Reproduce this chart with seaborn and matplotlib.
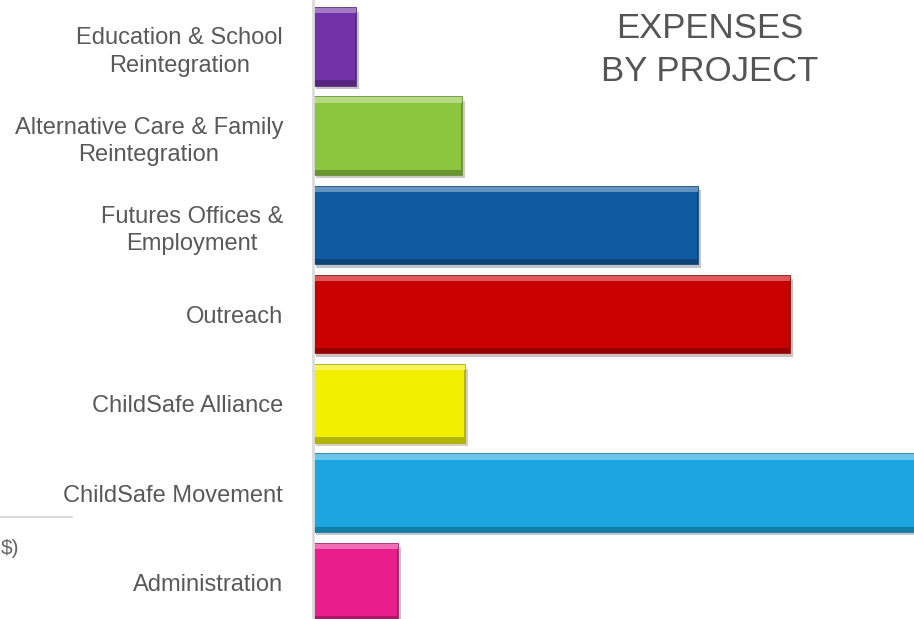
import numpy as np
import pandas as pd
import matplotlib
matplotlib.use("Agg")
import matplotlib.pyplot as plt
import matplotlib.patheffects as pe
from matplotlib.lines import Line2D
from matplotlib.colors import to_rgb
import seaborn as sns

# data (thousands US$ approx.)
projects = ["Education & School\nReintegration",
            "Alternative Care & Family\nReintegration",
            "Futures Offices &\nEmployment",
            "Outreach",
            "ChildSafe Alliance",
            "ChildSafe Movement",
            "Administration"]
expenses = [43, 149, 385, 477, 152, 640, 85]
colors = ["#7232a8", "#8cc63f", "#0f5aa0", "#c80000", "#f2f000", "#1ba6e0", "#e91e8c"]

df = pd.DataFrame({"project": projects, "expense": expenses})

sns.set_style("white")
plt.rcParams["font.family"] = ["Liberation Sans", "DejaVu Sans"]

fig = plt.figure(figsize=(9.14, 6.19), dpi=100)
fig.set_facecolor("white")
ax = fig.add_axes([313/914, 0, 601/914, 1])

sns.barplot(data=df, y="project", x="expense", hue="project", palette=colors,
            orient="h", width=0.87, legend=False, ax=ax, saturation=1)

def shade(c, f):
    r = np.array(to_rgb(c))
    if f < 1:
        return tuple(r * f)
    return tuple(r + (1 - r) * (f - 1))

# bevel look: dark edge, light strip on top, dark strip at bottom, drop shadow
for p, c in zip(ax.patches, colors):
    p.set_edgecolor(shade(c, 0.7))
    p.set_linewidth(1.2)
    p.set_path_effects([pe.SimplePatchShadow(offset=(2, -2.5), alpha=0.25), pe.Normal()])
ypos = np.arange(len(projects))
ax.barh(ypos - 0.435 + 0.03, expenses, height=0.06, color=[shade(c, 1.35) for c in colors], linewidth=0)
ax.barh(ypos + 0.435 - 0.03, expenses, height=0.06, color=[shade(c, 0.75) for c in colors], linewidth=0)

ax.set_xlim(0, 601)
ax.set_ylim(6.41, -0.526)
ax.set_xlabel("")
ax.set_ylabel("")
ax.set_xticks([])
ax.set_yticks(ypos)
ax.set_yticklabels(projects, multialignment="center", fontsize=17, color="#595959",
                   linespacing=1.32)
ax.tick_params(axis="y", length=0, pad=21.5)
for s in ["top", "right", "bottom"]:
    ax.spines[s].set_visible(False)
ax.spines["left"].set_color("#dcdcdc")
ax.spines["left"].set_linewidth(2)

fig.text(710/914, 1 - 50/619, "EXPENSES\nBY PROJECT", ha="center", va="center",
         fontsize=25, color="#555555", linespacing=1.36)

# leftover bits of another panel on the left edge
fig.add_artist(Line2D([0, 72/914], [1 - 517/619, 1 - 517/619], color="#d9d9d9", lw=1.5))
fig.text(1/914, 1 - 548/619, "$)", ha="left", va="center", fontsize=15, color="#666666")

fig.savefig("out.png", dpi=100)
